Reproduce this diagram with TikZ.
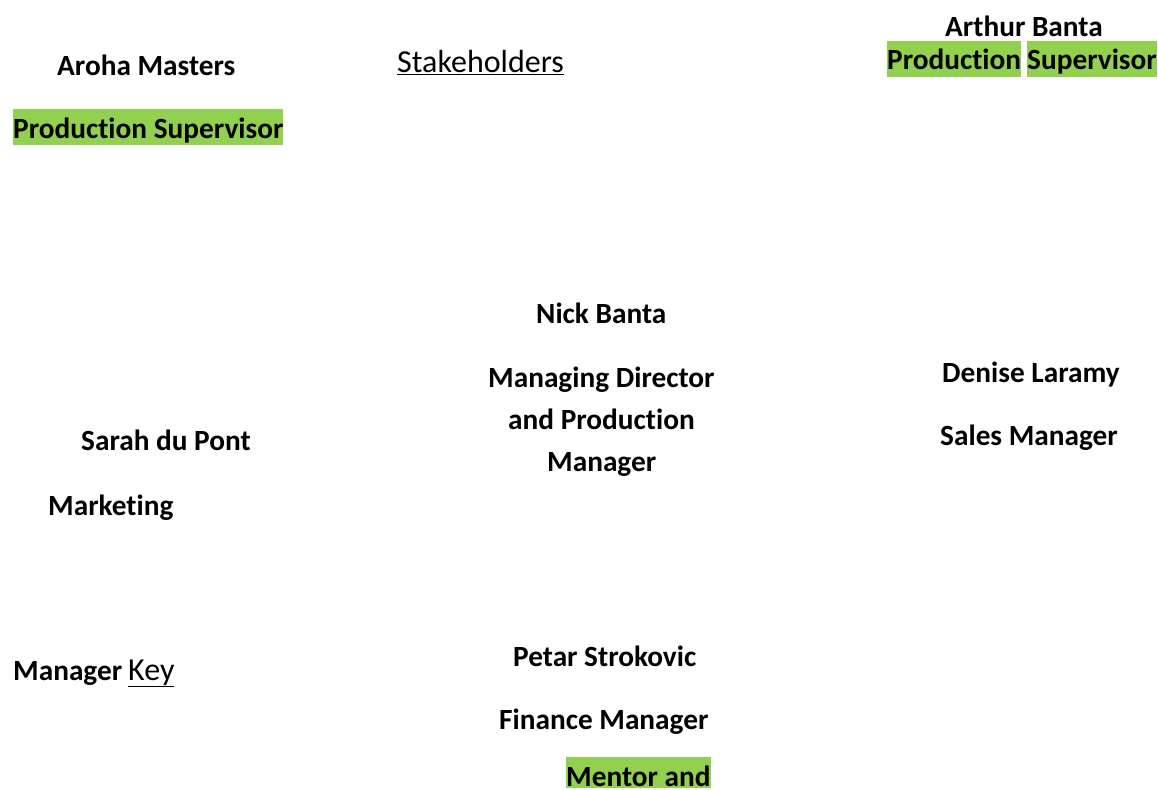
\documentclass[tikz,border=0pt]{standalone}
\usepackage{fontspec}
\setmainfont{Carlito}[Ligatures=NoCommon]
\definecolor{hlgreen}{HTML}{92D050}
\begin{document}
\begin{tikzpicture}[x=1pt,y=-1pt,
  lbl/.style={inner sep=0pt, anchor=base west, font=\fontsize{29.3}{34}\selectfont\bfseries},
  plain/.style={inner sep=0pt, anchor=base west, font=\fontsize{32}{38}\selectfont},
  hl/.style={lbl, fill=hlgreen, text height=29pt, text depth=7pt}]
\useasboundingbox (0,0) rectangle (1158,789);
% top row
\node[lbl] (aroha) at (57,76) {Aroha Masters};
\node[hl] (arohaRole) at (13,138) {Production Supervisor};
\node[plain] (stake) at (397,73) {\underline{Stakeholders}};
\node[lbl] (arthur) at (945,37) {Arthur Banta};
\node[hl] (arthurRole1) at (887,70) {Production};
\node[hl] (arthurRole2) at (1027,70) {Supervisor};
% middle row
\node[lbl] (nick) at (536,323) {Nick Banta};
\node[lbl] (nickRole1) at (488,387) {Managing Director};
\node[lbl] (nickRole2) at (508,429) {and Production};
\node[lbl] (nickRole3) at (547,471) {Manager};
\node[lbl] (denise) at (942,382) {Denise Laramy};
\node[lbl] (deniseRole) at (940,445) {Sales Manager};
\node[lbl] (sarah) at (81,450) {Sarah du Pont};
\node[lbl] (sarahRole) at (48,515) {Marketing};
% bottom row
\node[lbl] (sarahRole2) at (13,680) {Manager};
\node[plain] (key) at (128,680) {\underline{Key}};
\node[lbl] (petar) at (513,666) {Petar Strokovic};
\node[lbl] (petarRole) at (499,729) {Finance Manager};
\node[hl, text depth=2pt] (mentor) at (566,786) {Mentor and};
\end{tikzpicture}
\end{document}
